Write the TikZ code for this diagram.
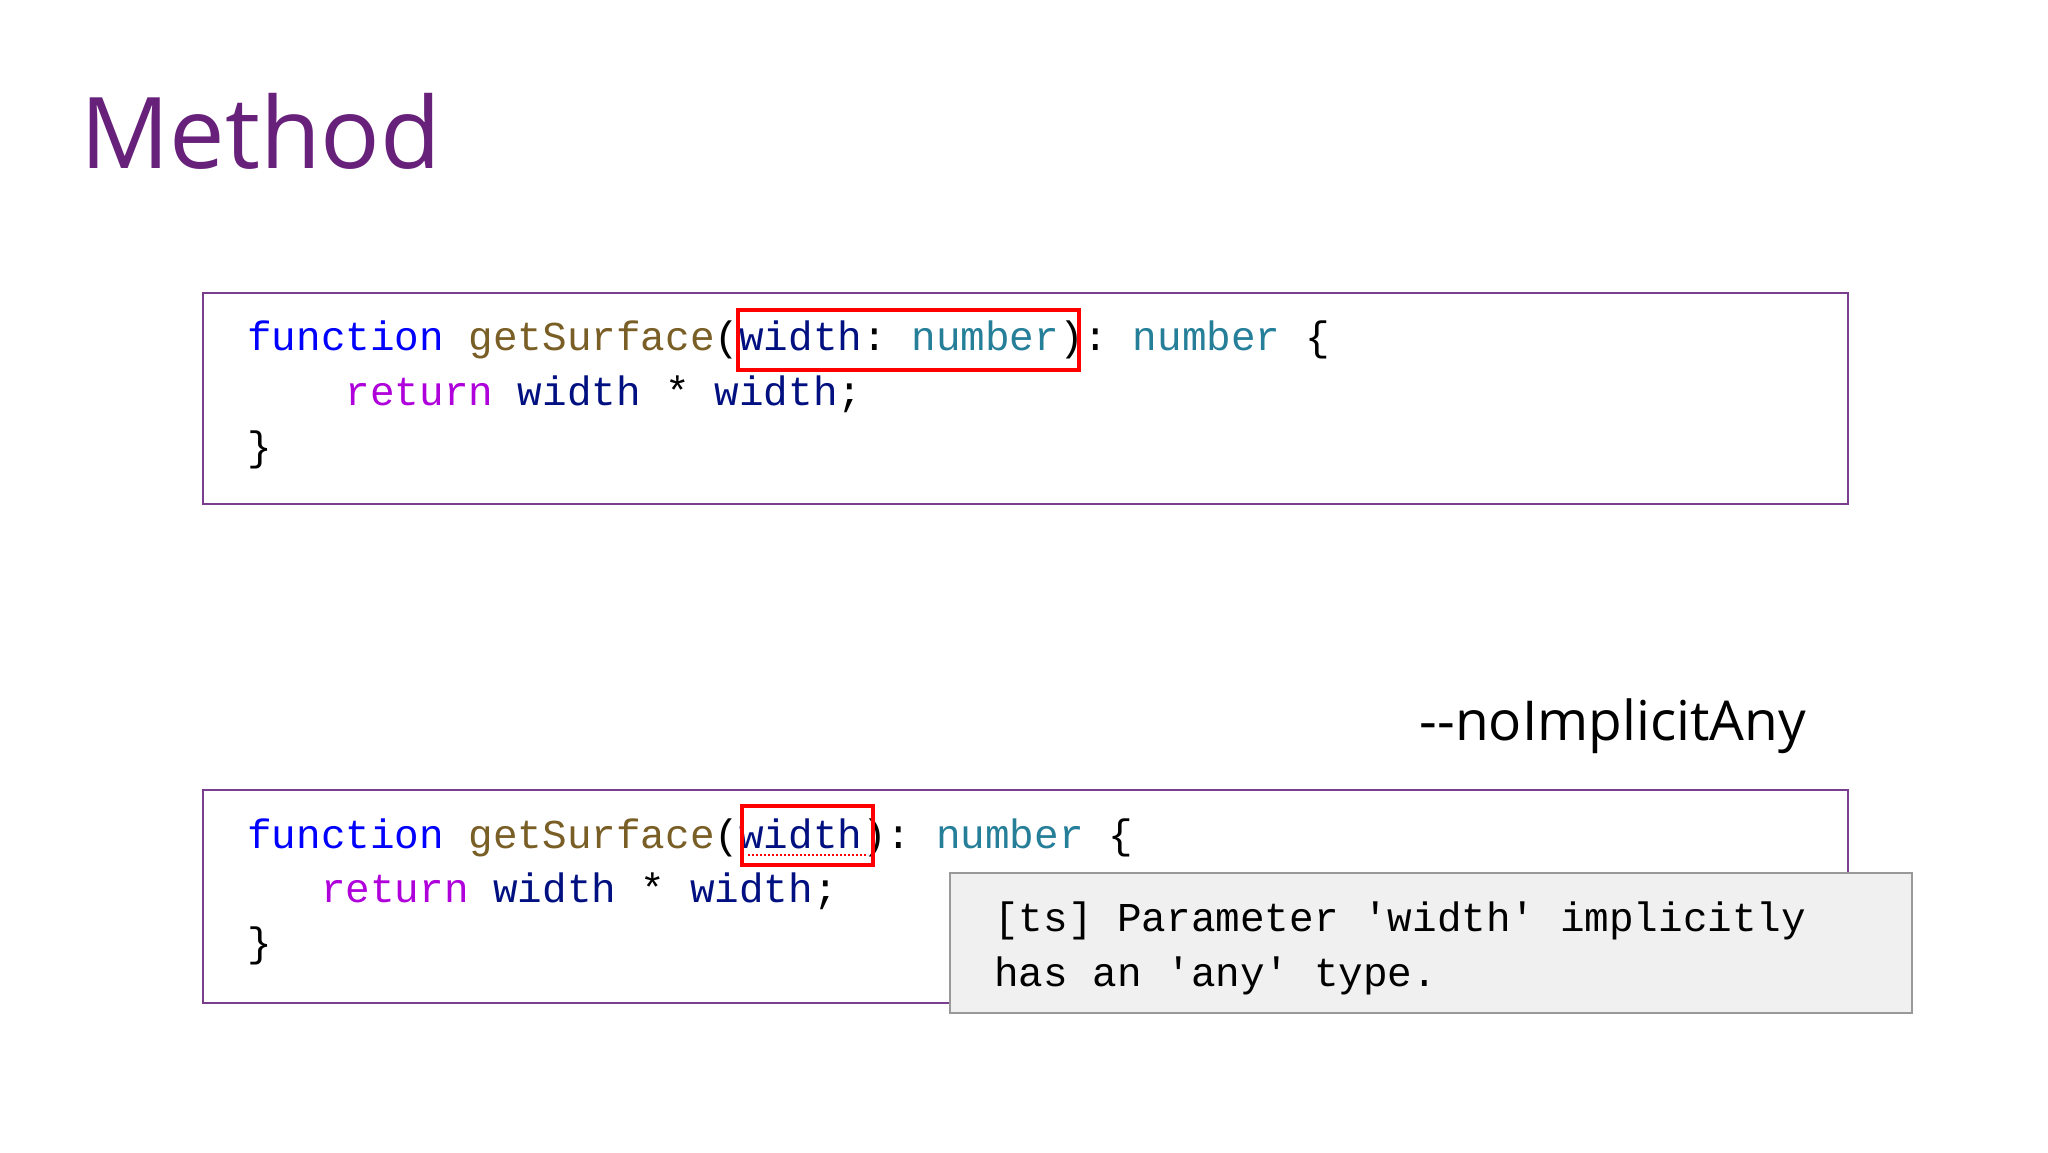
\documentclass[tikz,border=0pt]{standalone}
\usepackage{fontspec}
\setmainfont{Open Sans}
\setmonofont{Liberation Mono}
\definecolor{ttl}{HTML}{68217A}
\definecolor{kw}{HTML}{0000FF}
\definecolor{fn}{HTML}{795E26}
\definecolor{vr}{HTML}{001080}
\definecolor{ty}{HTML}{267F99}
\definecolor{rt}{HTML}{AF00DB}
\definecolor{bx}{HTML}{7A3E8E}
\newcommand{\K}[1]{\textcolor{kw}{#1}}
\newcommand{\F}[1]{\textcolor{fn}{#1}}
\newcommand{\V}[1]{\textcolor{vr}{#1}}
\newcommand{\T}[1]{\textcolor{ty}{#1}}
\newcommand{\R}[1]{\textcolor{rt}{#1}}
\begin{document}
\begin{tikzpicture}[x=1pt,y=-1pt,
  code/.style={anchor=base west,inner sep=0pt,font=\fontsize{41}{41}\ttfamily},
  codebox/.style={draw=bx,line width=1.6pt},
  redbox/.style={draw=red,line width=3.5pt},
  tip/.style={draw=gray!80,fill=black!6,line width=1.5pt}]
\useasboundingbox[fill=white] (0,0) rectangle (2048,1152);
\node[anchor=base west,inner sep=0pt,text=ttl,font=\fontsize{99}{99}\selectfont] (title) at (80,168) {Method};
% box 1
\draw[codebox] (203,293) rectangle (1848,504);
\node[code] (a1) at (247,350) {\K{function} \F{getSurface}(\V{width}: \T{number}): \T{number} \{};
\node[code] (a2) at (247,405) {\phantom{xxxx}\R{return} \V{width} * \V{width};};
\node[code] (a3) at (247,460) {\}};
\draw[redbox] (738,310) rectangle (1079,370);
% label
\node[anchor=base east,inner sep=0pt,font=\fontsize{55}{55}\selectfont] (flag) at (1806,740) {-{}-noImplicitAny};
% box 2
\draw[codebox] (203,790) rectangle (1848,1003);
\node[code] (b1) at (247,848) {\K{function} \F{getSurface}(\V{width}): \T{number} \{};
\node[code] (b2) at (247,902) {\phantom{xxx}\R{return} \V{width} * \V{width};};
\node[code] (b3) at (247,956) {\}};
\draw[red,line width=2pt,dotted] (748,855) -- (868,855);
\draw[redbox] (742,806) rectangle (873,865);
% tooltip
\draw[tip] (950,873) rectangle (1912,1013);
\node[code] (t1) at (994,931) {[ts] Parameter \textquotesingle width\textquotesingle\ implicitly};
\node[code] (t2) at (994,986) {has an \textquotesingle any\textquotesingle\ type.};
\end{tikzpicture}
\end{document}
